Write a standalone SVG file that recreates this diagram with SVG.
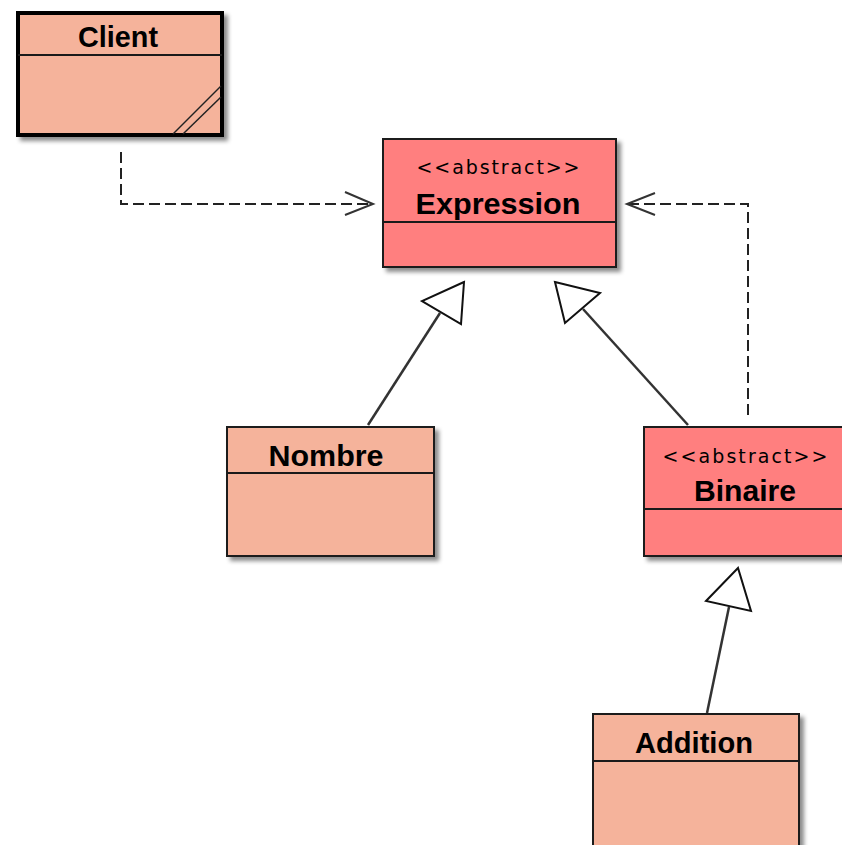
<svg xmlns="http://www.w3.org/2000/svg" width="842" height="845" viewBox="0 0 842 845">
<defs>
<filter id="sh" x="-10%" y="-10%" width="130%" height="130%">
<feDropShadow dx="4" dy="4" stdDeviation="2" flood-color="#000" flood-opacity="0.45"/>
</filter>
<style>
.light{fill:#F5B39B;stroke:#1a1a1a;stroke-width:2}
.dark{fill:#FF7F7F;stroke:#1a1a1a;stroke-width:2}
.div{stroke:#1a1a1a;stroke-width:2}
.name{font-family:"Liberation Sans",Arial,sans-serif;font-weight:bold;font-size:30px;fill:#000;text-anchor:middle}
.st{font-family:"DejaVu Sans","Liberation Sans",sans-serif;font-size:19px;fill:#000;text-anchor:middle}
.dash{fill:none;stroke:#222;stroke-width:2;stroke-dasharray:11,5}
.solid{fill:none;stroke:#333;stroke-width:2.5}
.tri{fill:#fff;stroke:#111;stroke-width:2}
.open{fill:none;stroke:#333;stroke-width:2}
</style>
</defs>
<rect width="842" height="845" fill="#fff"/>
<g id="connectors">
<polyline class="dash" points="121,152 121,204 372,204"/>
<polyline class="open" points="345,192 373,204 345,215"/>
<polyline class="dash" points="748,415 748,204 628,204"/>
<polyline class="open" points="655,193 627,204 655,215"/>
<line class="solid" x1="368" y1="425" x2="440" y2="313"/>
<polygon class="tri" points="464,282 422,301 461,324"/>
<line class="solid" x1="688" y1="425" x2="583" y2="309"/>
<polygon class="tri" points="555,282 600,293 565,323"/>
<line class="solid" x1="707" y1="713" x2="729" y2="607"/>
<polygon class="tri" points="738,568 706,601 751,611"/>
</g>
<g id="Client">
<rect x="18" y="13" width="204" height="122" class="light" style="stroke-width:4;stroke:#000" filter="url(#sh)"/>
<line x1="18" y1="55" x2="222" y2="55" class="div"/>
<line x1="173" y1="134" x2="221" y2="86" stroke="#222" stroke-width="1.5"/>
<line x1="183" y1="134" x2="221" y2="97" stroke="#222" stroke-width="1.5"/>
<text x="118" y="47" class="name" textLength="80" lengthAdjust="spacingAndGlyphs">Client</text>
</g>
<g id="Expression">
<rect x="383" y="139" width="233" height="128" class="dark" filter="url(#sh)"/>
<line x1="383" y1="222" x2="616" y2="222" class="div"/>
<text x="498" y="174" class="st" textLength="163" lengthAdjust="spacing">&lt;&lt;abstract&gt;&gt;</text>
<text x="498" y="214" class="name" textLength="165" lengthAdjust="spacingAndGlyphs">Expression</text>
</g>
<g id="Nombre">
<rect x="227" y="427" width="207" height="129" class="light" filter="url(#sh)"/>
<line x1="227" y1="473" x2="434" y2="473" class="div"/>
<text x="326" y="466" class="name" textLength="115" lengthAdjust="spacingAndGlyphs">Nombre</text>
</g>
<g id="Binaire">
<rect x="644" y="427" width="204" height="129" class="dark" filter="url(#sh)"/>
<line x1="644" y1="509" x2="848" y2="509" class="div"/>
<text x="745" y="463" class="st" textLength="165" lengthAdjust="spacing">&lt;&lt;abstract&gt;&gt;</text>
<text x="745" y="501" class="name" textLength="102" lengthAdjust="spacingAndGlyphs">Binaire</text>
</g>
<g id="Addition">
<rect x="593" y="714" width="206" height="140" class="light" filter="url(#sh)"/>
<line x1="593" y1="761" x2="799" y2="761" class="div"/>
<text x="694" y="753" class="name" textLength="118" lengthAdjust="spacingAndGlyphs">Addition</text>
</g>
</svg>
